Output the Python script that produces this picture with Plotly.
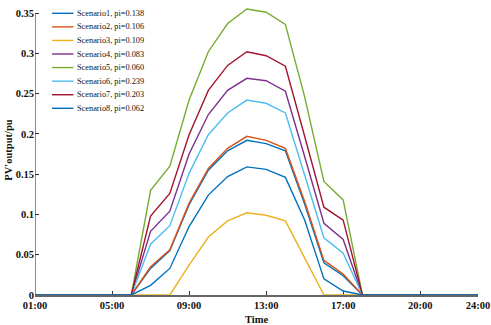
import plotly.graph_objects as go

hours = list(range(1, 25))
tick_vals = [1, 5, 9, 13, 17, 21, 24]
tick_text = ["01:00", "05:00", "09:00", "13:00", "17:00", "20:00", "24:00"]
y_tick_vals = [0, 0.05, 0.1, 0.15, 0.2, 0.25, 0.3, 0.35]
y_tick_text = ["0", "0.05", "0.1", "0.15", "0.2", "0.25", "0.3", "0.35"]

names = ["Scenario1, pi=0.138", "Scenario2, pi=0.106", "Scenario3, pi=0.109",
         "Scenario4, pi=0.083", "Scenario5, pi=0.060", "Scenario6, pi=0.239",
         "Scenario7, pi=0.203", "Scenario8, pi=0.062"]
colors = ["#0072BD", "#D95319", "#EDB120", "#7E2F8E", "#77AC30", "#4DBEEE", "#A2142F", "#0072BD"]

Z5 = [0, 0, 0, 0, 0]
Z6 = [0, 0, 0, 0, 0, 0]
s1 = Z5 + [0, 0.033, 0.055, 0.112, 0.155, 0.179, 0.192, 0.188, 0.179, 0.113, 0.040, 0.024, 0] + Z6
s2 = Z5 + [0, 0.035, 0.056, 0.114, 0.157, 0.182, 0.197, 0.192, 0.182, 0.116, 0.043, 0.026, 0] + Z6
s3 = Z5 + [0, 0, 0, 0.037, 0.072, 0.092, 0.102, 0.099, 0.092, 0.046, 0, 0, 0] + Z6
s4 = Z5 + [0, 0.079, 0.104, 0.175, 0.224, 0.254, 0.269, 0.266, 0.253, 0.172, 0.089, 0.069, 0] + Z6
s5 = Z5 + [0, 0.130, 0.160, 0.242, 0.302, 0.337, 0.355, 0.351, 0.336, 0.246, 0.141, 0.118, 0] + Z6
s6 = Z5 + [0, 0.063, 0.086, 0.151, 0.199, 0.226, 0.242, 0.238, 0.226, 0.149, 0.071, 0.052, 0] + Z6
s7 = Z5 + [0, 0.098, 0.126, 0.199, 0.254, 0.285, 0.302, 0.297, 0.284, 0.197, 0.109, 0.093, 0] + Z6
s8 = Z5 + [0, 0.012, 0.033, 0.085, 0.124, 0.147, 0.159, 0.156, 0.146, 0.093, 0.020, 0.005, 0] + Z6
series = [s1, s2, s3, s4, s5, s6, s7, s8]

W, H = 491, 325
ML, MR, MT, MB = 35, 13, 5, 30
PW, PH = W - ML - MR, H - MT - MB

fig = go.Figure()
for name, col, vals in zip(names, colors, series):
    fig.add_trace(go.Scatter(x=hours, y=vals, mode="lines", name=name,
                             line=dict(color=col, width=1.4), showlegend=False))

FONT = "Liberation Serif"
axis_col = "#666666"

# manual legend (compact rows like the reference)
def px2paper(px, py):
    return (px - ML) / PW, (H - MB - py) / PH

shapes = []
annotations = []
for i, (name, col) in enumerate(zip(names, colors)):
    py = 13.3 + 13.57 * i
    x0, y0 = px2paper(52, py)
    x1, _ = px2paper(73.5, py)
    shapes.append(dict(type="line", xref="paper", yref="paper", x0=x0, x1=x1, y0=y0, y1=y0,
                       line=dict(color=col, width=1.4)))
    tx, _ = px2paper(75, py)
    annotations.append(dict(xref="paper", yref="paper", x=tx, y=y0, text=name, showarrow=False,
                            xanchor="left", yanchor="middle",
                            font=dict(family=FONT, size=8.3, color="#111111")))

# left axis line ends at 0.35
shapes.append(dict(type="line", xref="x", yref="y", x0=1, x1=1, y0=0, y1=0.35, layer="below",
                   line=dict(color=axis_col, width=1.5)))

fig.update_layout(
    width=W, height=H,
    margin=dict(l=ML, r=MR, t=MT, b=MB, pad=0, autoexpand=False),
    plot_bgcolor="white", paper_bgcolor="white",
    shapes=shapes, annotations=annotations,
    xaxis=dict(range=[1, 24], tickvals=tick_vals, ticktext=tick_text, automargin=False,
               ticks="inside", ticklen=4, tickcolor="#333333", tickwidth=1,
               showline=True, linecolor=axis_col, linewidth=1.5, layer="below traces",
               showgrid=False, zeroline=False,
               tickfont=dict(family=FONT, size=10.5, color="#111111", weight="bold"),
               title=dict(text="Time", font=dict(family=FONT, size=10.5, color="#111111", weight="bold"),
                          standoff=5)),
    yaxis=dict(range=[0, 0.36], tickvals=y_tick_vals, ticktext=y_tick_text, automargin=False,
               ticks="inside", ticklen=4, tickcolor="#333333", tickwidth=1,
               showline=False, showgrid=False, zeroline=False,
               tickfont=dict(family=FONT, size=10.5, color="#111111", weight="bold"),
               title=dict(text="PV'output/pu", font=dict(family=FONT, size=10.5, color="#111111", weight="bold"),
                          standoff=0)),
)

fig.write_html("out.html", post_script="document.body.style.margin='0';",
               config={"displayModeBar": False})
